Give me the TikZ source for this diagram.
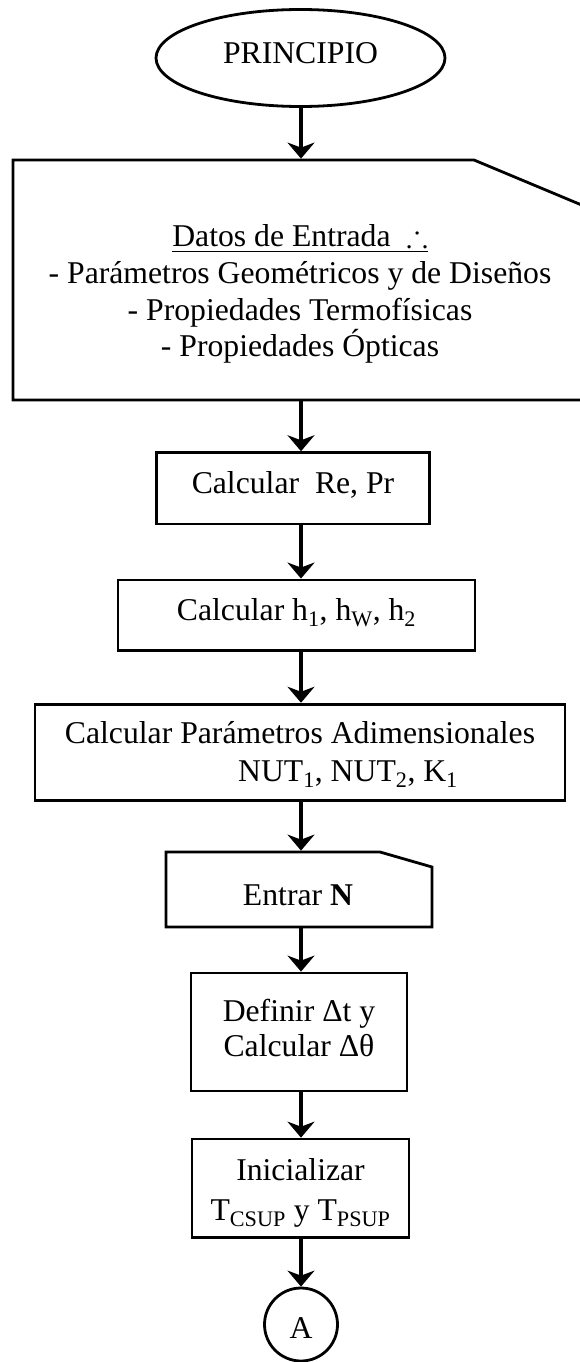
\documentclass[tikz,border=0pt]{standalone}
\usepackage{fontspec}
\setmainfont{Liberation Serif}
\usepackage{amssymb}
\usetikzlibrary{arrows.meta,shapes.geometric}

\begin{document}
\begin{tikzpicture}[x=1pt, y=-1pt,
    caja/.style={draw, line width=2.8pt, inner sep=0pt, align=center,
        text height=22pt, text depth=12pt, font=\fontsize{31.7}{36.7}\selectfont},
    texto/.style={inner sep=0pt, align=center, font=\fontsize{31.7}{36.7}\selectfont},
    flecha/.style={line width=3.6pt, -{Stealth[length=16pt, width=27pt, inset=5pt]}}]

    \useasboundingbox (0, 0) rectangle (579, 1362);
    \coordinate (eje) at (301, 0);

    \node [caja, ellipse, minimum width=289pt, minimum height=97pt, text depth=11.4pt] (principio) at (300.5, 58) {PRINCIPIO};

    % datos de entrada
    \draw [line width=2.8pt] (13, 160) -- (474, 160) -- (584, 206) -- (584, 400) -- (13, 400) -- cycle;
    \coordinate (datosN) at (301, 158.6);
    \coordinate (datosS) at (301, 401.4);
    \node [texto, anchor=base] (datos) at (300, 356.7) {\underline{Datos de Entrada\ \ $\therefore$}\\
        - Parámetros Geométricos y de Diseños\\
        - Propiedades Termofísicas\\
        - Propiedades Ópticas};

    \node [caja, minimum width=272.6pt, minimum height=71.3pt] (recalc) at (293, 488.3) {Calcular\ \ Re, Pr};
    \node [caja, minimum width=357pt, minimum height=70.7pt] (hcalc) at (296.5, 615.3) {Calcular h\textsubscript{1}, h\textsubscript{W}, h\textsubscript{2}};
    \node [caja, minimum width=530pt, minimum height=96.7pt, text height=70.4pt] (adim) at (300, 752.5) {Calcular Parámetros Adimensionales\\[2pt]
        \hspace*{96pt}NUT\textsubscript{1}, NUT\textsubscript{2}, K\textsubscript{1}};

    % entrar N
    \draw [line width=2.8pt] (166, 852) -- (380, 852) -- (432, 867) -- (432, 927) -- (166, 927) -- cycle;
    \coordinate (entrarN) at (301, 850.6);
    \coordinate (entrarS) at (301, 928.4);
    \node [texto, anchor=base] (entrar) at (298, 905) {Entrar \textbf{N}};

    \node [caja, minimum width=216pt, minimum height=118pt, text height=61.4pt] (definir) at (299, 1032) {Definir Δt y\\[-1.7pt] Calcular Δθ};
    \node [caja, minimum width=217pt, minimum height=98.5pt, text height=75.4pt] (inicial) at (300.5, 1188.3) {Inicializar\\[3.3pt] T\textsubscript{CSUP} y T\textsubscript{PSUP}};
    \node [caja, circle, minimum size=73pt, text height=30pt, text depth=3pt] (conA) at (301, 1324.5) {A};

    \draw [flecha] (principio.south -| eje) -- (datosN);
    \draw [flecha] (datosS) -- (recalc.north -| eje);
    \draw [flecha] (adim.south -| eje) -- (entrarN);
    \draw [flecha] (entrarS) -- (definir.north -| eje);
    \draw [flecha] (inicial.south -| eje) -- (conA.north);

    \foreach \a/\b in {recalc/hcalc, hcalc/adim, definir/inicial}
        \draw [flecha] (\a.south -| eje) -- (\b.north -| eje);
\end{tikzpicture}
\end{document}
